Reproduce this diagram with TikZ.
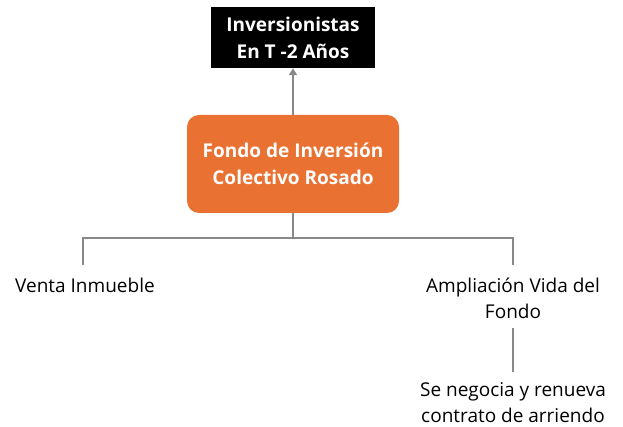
\documentclass[tikz,border=0pt]{standalone}
\usepackage{fontspec}
\setmainfont{Open Sans}
\usetikzlibrary{arrows.meta}
\definecolor{orng}{HTML}{E97132}
\definecolor{lgray}{HTML}{898989}
\tikzset{
  conn/.style={draw=lgray, line width=2pt},
  plain/.style={font=\fontsize{19}{26}\selectfont, align=center, inner sep=0pt},
  hdr/.style={font=\bfseries\fontsize{19}{27}\selectfont, text=white, align=center, inner sep=0pt},
}
\begin{document}
\begin{tikzpicture}[x=1pt,y=-1pt]
\useasboundingbox (0,0) rectangle (623,427);
\node[fill=black, minimum width=164pt, minimum height=61pt, inner sep=0pt] (inv) at (293,37.5) {};
\node[hdr] (invt) at (293,37.5) {Inversionistas\\En T -2 Años};
\node[fill=orng, rounded corners=12pt, minimum width=212pt, minimum height=98pt, inner sep=0pt] (fondo) at (293,164) {};
\node[hdr] (fondot) at (293,164) {Fondo de Inversión\\Colectivo Rosado};
\coordinate (j) at (293,238);
\coordinate (jl) at (83,238);
\coordinate (jr) at (513,238);
\coordinate (dl) at (83,265);
\coordinate (dr) at (513,265);
\node[plain] (venta) at (85,285) {Venta Inmueble};
\node[plain] (amp) at (513,298) {Ampliación Vida del\\Fondo};
\node[plain] (neg) at (513,403) {Se negocia y renueva\\contrato de arriendo};
\draw[conn, -{Triangle[length=7pt,width=8pt]}] (fondo.north) -- (inv.south);
\draw[conn] (fondo.south) -- (j);
\draw[conn] (dl) -- (jl) -- (jr) -- (dr);
\draw[conn] (513,328) -- (513,372);
\end{tikzpicture}
\end{document}
